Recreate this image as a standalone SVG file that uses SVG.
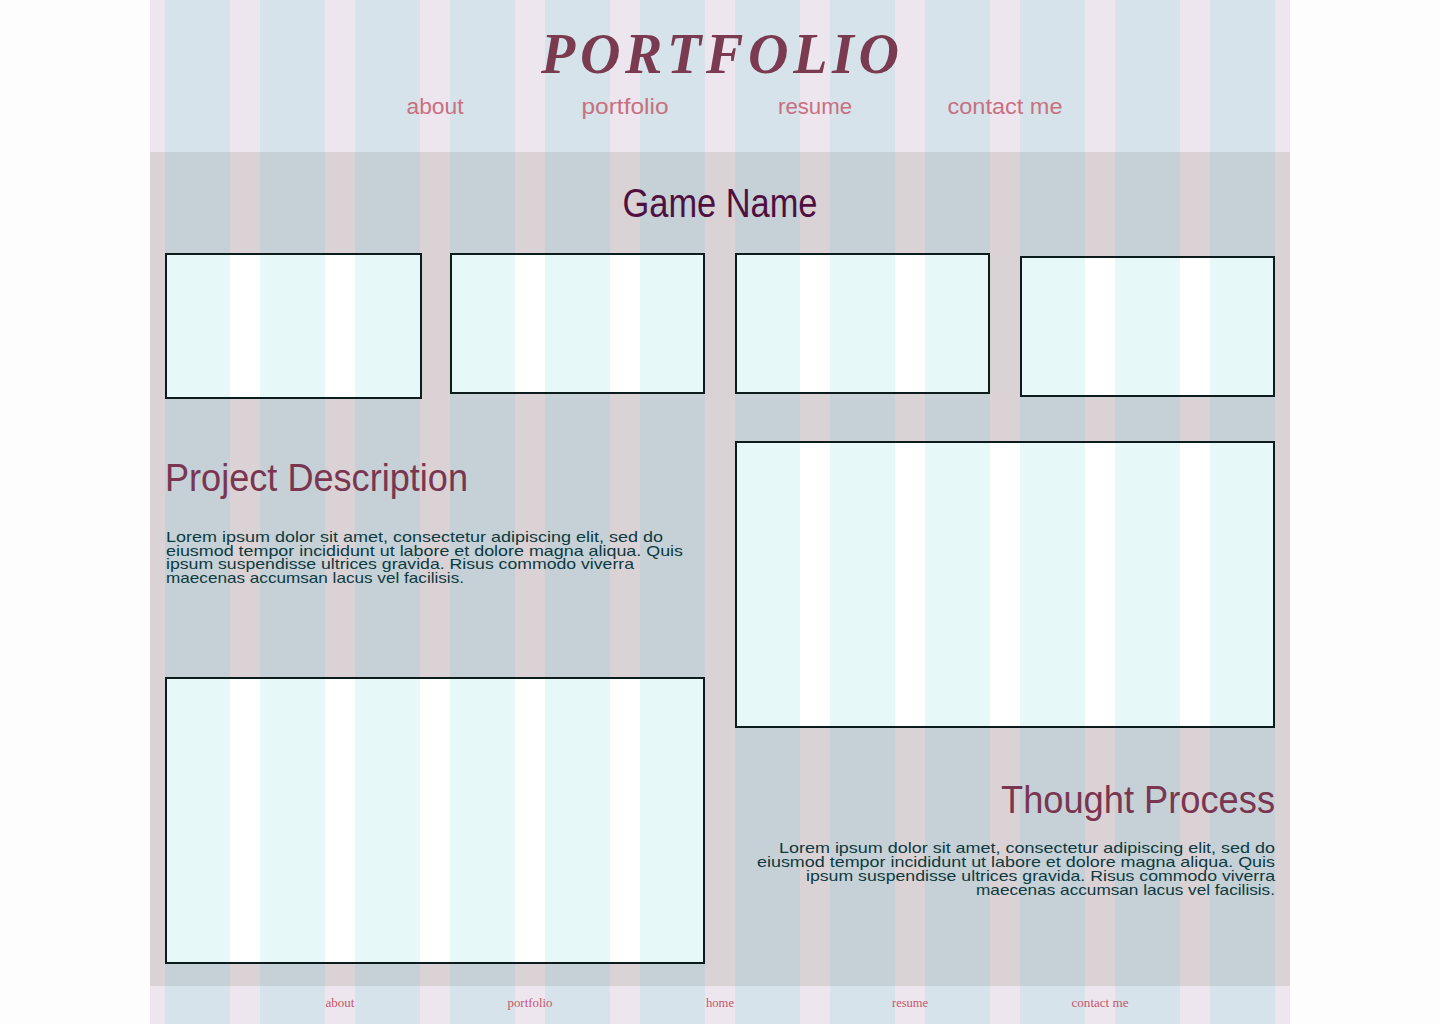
<svg xmlns="http://www.w3.org/2000/svg" width="1440" height="1024" viewBox="0 0 1440 1024">
<defs>
<style>
.hd{fill:#ede6ef}
.hdc{fill:#d6e3ea}
.bd{fill:#dbd2d6}
.bdc{fill:#c5d1d6}
.img{fill:#ffffff}
.imgc{fill:#e6f9f8}
.frame{fill:none;stroke:#0c1c1c;stroke-width:2}
.hand{font-family:"Liberation Sans","Open Sans",sans-serif}
.nav{font-size:22px;fill:#c8707f;text-anchor:middle}
.body{font-size:14.5px;fill:#0d3a40}
.h2{font-size:38px;fill:#7a3650}
.foot{font-family:"Liberation Serif","DejaVu Serif",serif;font-size:12.5px;fill:#c4566a;text-anchor:middle}
</style>
<pattern id="hdcols" x="165" y="0" width="95" height="1024" patternUnits="userSpaceOnUse">
<rect x="0" y="0" width="65" height="1024" class="hdc"/>
</pattern>
<pattern id="bdcols" x="165" y="0" width="95" height="1024" patternUnits="userSpaceOnUse">
<rect x="0" y="0" width="65" height="1024" class="bdc"/>
</pattern>
<pattern id="imgcols" x="165" y="0" width="95" height="1024" patternUnits="userSpaceOnUse">
<rect x="0" y="0" width="65" height="1024" class="imgc"/>
</pattern>
</defs>
<rect x="0" y="0" width="1440" height="1024" fill="#fefdfe"/>
<g id="header">
<rect x="150" y="0" width="1140" height="152" class="hd"/>
<rect x="165" y="0" width="1110" height="152" fill="url(#hdcols)"/>
<text x="720" y="73" text-anchor="middle" font-family="'Liberation Serif','DejaVu Serif',serif" font-style="italic" font-weight="bold" font-size="56" fill="#7a3a50" textLength="358" lengthAdjust="spacing">PORTFOLIO</text>
<g id="nav" class="hand nav">
<text x="435" y="114" textLength="57" lengthAdjust="spacingAndGlyphs">about</text>
<text x="625" y="114" textLength="87" lengthAdjust="spacingAndGlyphs">portfolio</text>
<text x="815" y="114" textLength="74" lengthAdjust="spacingAndGlyphs">resume</text>
<text x="1005" y="114" textLength="115" lengthAdjust="spacingAndGlyphs">contact me</text>
</g>
</g>
<g id="main">
<rect x="150" y="152" width="1140" height="834" class="bd"/>
<rect x="165" y="152" width="1110" height="834" fill="url(#bdcols)"/>
<text id="game-name" class="hand" x="720" y="217" text-anchor="middle" font-size="40" fill="#4f1040" textLength="195" lengthAdjust="spacingAndGlyphs">Game Name</text>
<g id="thumb1"><rect x="166" y="254" width="255" height="144" class="img"/><rect x="166" y="254" width="255" height="144" fill="url(#imgcols)"/><rect x="166" y="254" width="255" height="144" class="frame"/></g>
<g id="thumb2"><rect x="451" y="254" width="253" height="139" class="img"/><rect x="451" y="254" width="253" height="139" fill="url(#imgcols)"/><rect x="451" y="254" width="253" height="139" class="frame"/></g>
<g id="thumb3"><rect x="736" y="254" width="253" height="139" class="img"/><rect x="736" y="254" width="253" height="139" fill="url(#imgcols)"/><rect x="736" y="254" width="253" height="139" class="frame"/></g>
<g id="thumb4"><rect x="1021" y="257" width="253" height="139" class="img"/><rect x="1021" y="257" width="253" height="139" fill="url(#imgcols)"/><rect x="1021" y="257" width="253" height="139" class="frame"/></g>
<g id="project-description">
<text class="hand h2" x="165" y="491" textLength="303" lengthAdjust="spacingAndGlyphs">Project Description</text>
<g class="hand body">
<text x="166" y="542" textLength="497" lengthAdjust="spacingAndGlyphs">Lorem ipsum dolor sit amet, consectetur adipiscing elit, sed do</text>
<text x="166" y="555.7" textLength="517" lengthAdjust="spacingAndGlyphs">eiusmod tempor incididunt ut labore et dolore magna aliqua. Quis</text>
<text x="166" y="569.4" textLength="468" lengthAdjust="spacingAndGlyphs">ipsum suspendisse ultrices gravida. Risus commodo viverra</text>
<text x="166" y="583" textLength="298" lengthAdjust="spacingAndGlyphs">maecenas accumsan lacus vel facilisis.</text>
</g>
</g>
<g id="image-right"><rect x="736" y="442" width="538" height="285" class="img"/><rect x="736" y="442" width="538" height="285" fill="url(#imgcols)"/><rect x="736" y="442" width="538" height="285" class="frame"/></g>
<g id="image-left"><rect x="166" y="678" width="538" height="285" class="img"/><rect x="166" y="678" width="538" height="285" fill="url(#imgcols)"/><rect x="166" y="678" width="538" height="285" class="frame"/></g>
<g id="thought-process">
<text class="hand h2" x="1275" y="813" text-anchor="end" textLength="274" lengthAdjust="spacingAndGlyphs">Thought Process</text>
<g class="hand body" text-anchor="end">
<text x="1275" y="853.3" textLength="496" lengthAdjust="spacingAndGlyphs">Lorem ipsum dolor sit amet, consectetur adipiscing elit, sed do</text>
<text x="1275" y="867.2" textLength="518" lengthAdjust="spacingAndGlyphs">eiusmod tempor incididunt ut labore et dolore magna aliqua. Quis</text>
<text x="1275" y="881" textLength="469" lengthAdjust="spacingAndGlyphs">ipsum suspendisse ultrices gravida. Risus commodo viverra</text>
<text x="1275" y="895" textLength="299" lengthAdjust="spacingAndGlyphs">maecenas accumsan lacus vel facilisis.</text>
</g>
</g>
</g>
<g id="footer">
<rect x="150" y="986" width="1140" height="38" class="hd"/>
<rect x="165" y="986" width="1110" height="38" fill="url(#hdcols)"/>
<g class="foot">
<text x="340" y="1007" textLength="29" lengthAdjust="spacingAndGlyphs">about</text>
<text x="530" y="1007" textLength="45" lengthAdjust="spacingAndGlyphs">portfolio</text>
<text x="720" y="1007" textLength="28" lengthAdjust="spacingAndGlyphs">home</text>
<text x="910" y="1007" textLength="36" lengthAdjust="spacingAndGlyphs">resume</text>
<text x="1100" y="1007" textLength="57" lengthAdjust="spacingAndGlyphs">contact me</text>
</g>
</g>
</svg>
